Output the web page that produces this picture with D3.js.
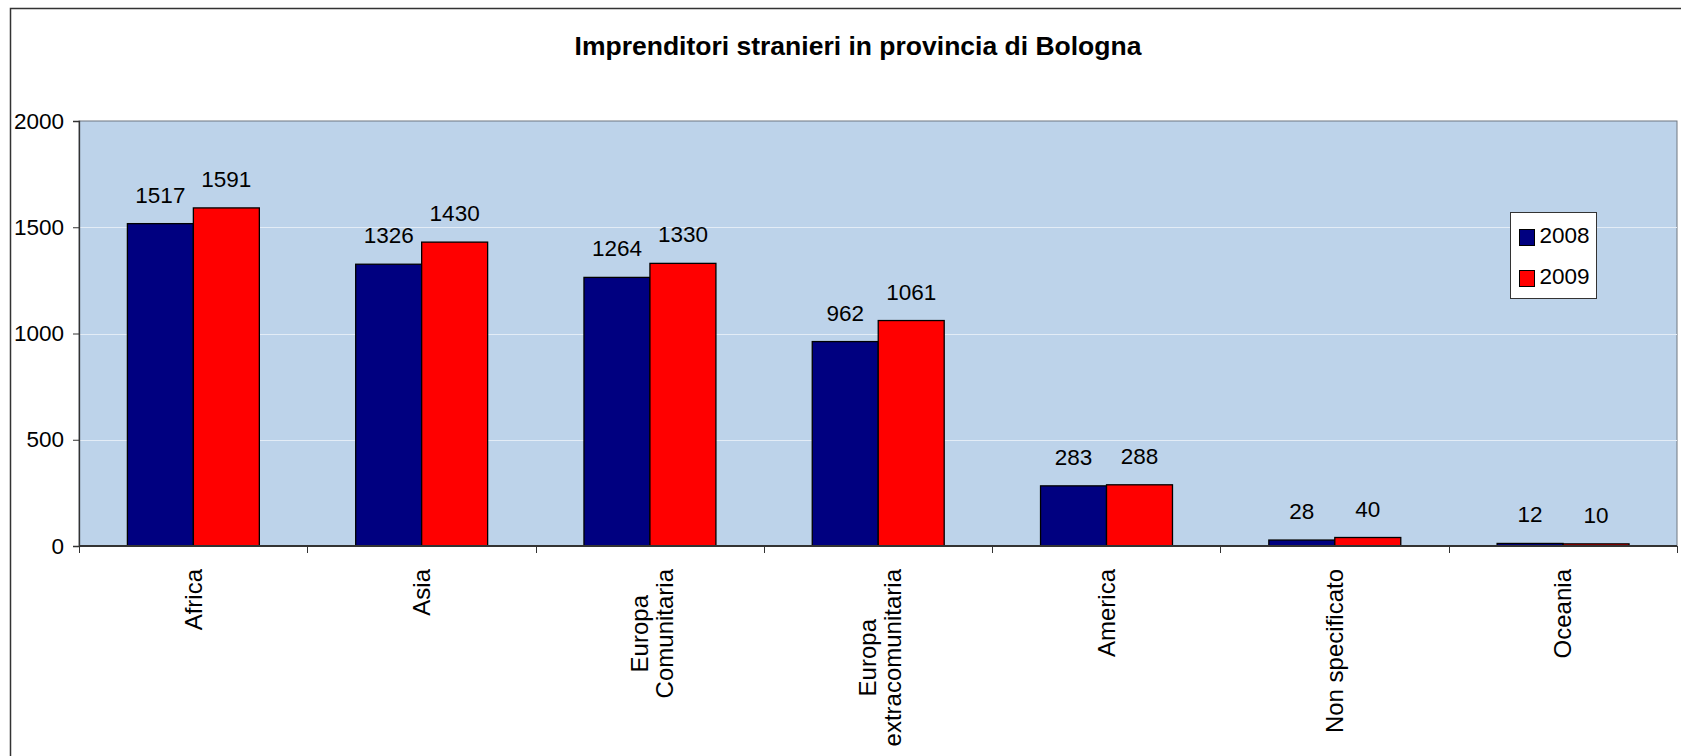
<!DOCTYPE html>
<html>
<head>
<meta charset="utf-8">
<script src="https://cdn.jsdelivr.net/npm/d3@7"></script>
<style>
  body { margin: 0; background: #fff; }
  text { font-family: Arial, "Liberation Sans", sans-serif; fill: #000; }
</style>
</head>
<body>
<div id="chart"></div>
<script>
// data
var categories = ["Africa", "Asia", "Europa\nComunitaria", "Europa\nextracomunitaria", "America", "Non specificato", "Oceania"];
var years = ["2008", "2009"];
var values2008 = [1517, 1326, 1264, 962, 283, 28, 12];
var values2009 = [1591, 1430, 1330, 1061, 288, 40, 10];
var yTicks = [0, 500, 1000, 1500, 2000];
var colors = ["#000080", "#ff0000"];

var W = 1681, H = 756;
var plot = {left: 79, right: 1677, top: 121, bottom: 546};

var data = categories.map(function(c, i) {
    return {cat: c, vals: [values2008[i], values2009[i]]};
});

var svg = d3.select("#chart").append("svg")
    .attr("width", W)
    .attr("height", H);

// outer chart frame (runs off the page right and bottom)
svg.append("rect")
    .attr("x", 10.5).attr("y", 8.5)
    .attr("width", W + 40).attr("height", H + 40)
    .attr("fill", "#fff")
    .attr("stroke", "#333")
    .attr("stroke-width", 1.5);

// scales
var x0 = d3.scaleBand()
    .domain(categories)
    .range([plot.left, plot.right])
    .padding(0);
var x1 = d3.scaleBand()
    .domain(years)
    .range([x0.bandwidth() * 0.212, x0.bandwidth() * 0.79])
    .padding(0);
var y = d3.scaleLinear()
    .domain([0, 2000])
    .range([plot.bottom, plot.top]);

// plot background
svg.append("rect")
    .attr("x", plot.left).attr("y", plot.top)
    .attr("width", plot.right - plot.left)
    .attr("height", plot.bottom - plot.top)
    .attr("fill", "#bdd3ea")
    .attr("stroke", "#6f7780")
    .attr("stroke-width", 1);

// gridlines
svg.append("g")
    .selectAll("line")
    .data(yTicks.filter(function(t) { return t > 0 && t < 2000; }))
    .enter().append("line")
    .attr("x1", plot.left).attr("x2", plot.right)
    .attr("y1", function(d) { return Math.round(y(d)) + 0.5; })
    .attr("y2", function(d) { return Math.round(y(d)) + 0.5; })
    .attr("stroke", "#e3ecf6")
    .attr("stroke-width", 1.2);

// bars
var groups = svg.append("g").selectAll("g")
    .data(data)
    .enter().append("g")
    .attr("transform", function(d) { return "translate(" + x0(d.cat) + ",0)"; });

groups.selectAll("rect")
    .data(function(d) { return d.vals.map(function(v, i) { return {year: years[i], v: v, i: i}; }); })
    .enter().append("rect")
    .attr("x", function(d) { return x1(d.year); })
    .attr("width", x1.bandwidth())
    .attr("y", function(d) { return y(d.v); })
    .attr("height", function(d) { return y(0) - y(d.v); })
    .attr("fill", function(d) { return colors[d.i]; })
    .attr("stroke", "#000")
    .attr("stroke-width", 1.3);

// value labels
groups.selectAll("text")
    .data(function(d) { return d.vals.map(function(v, i) { return {year: years[i], v: v}; }); })
    .enter().append("text")
    .attr("x", function(d) { return x1(d.year) + x1.bandwidth() / 2; })
    .attr("y", function(d) { return y(d.v) - 21; })
    .attr("text-anchor", "middle")
    .style("font-size", "22.5px")
    .text(function(d) { return d.v; });

// y axis
var yAxis = svg.append("g")
    .attr("transform", "translate(" + plot.left + ",0)")
    .call(d3.axisLeft(y).tickValues(yTicks).tickSize(6).tickPadding(9).tickFormat(d3.format("d")));
yAxis.select(".domain").attr("stroke", "#333").attr("stroke-width", 1.3);
yAxis.selectAll(".tick line").attr("stroke", "#333");
yAxis.selectAll(".tick text")
    .style("font-family", "Arial, 'Liberation Sans', sans-serif")
    .style("font-size", "22.5px")
    .attr("fill", "#000");

// x axis: ticks on category boundaries
var xAxis = svg.append("g")
    .attr("transform", "translate(0," + plot.bottom + ")");
xAxis.append("line")
    .attr("x1", plot.left).attr("x2", plot.right)
    .attr("y1", 0).attr("y2", 0)
    .attr("stroke", "#333")
    .attr("stroke-width", 2);
var bounds = categories.map(function(c) { return x0(c); }).concat([plot.right]);
xAxis.selectAll(".xtick")
    .data(bounds)
    .enter().append("line")
    .attr("class", "xtick")
    .attr("x1", function(d) { return Math.round(d) + 0.5; })
    .attr("x2", function(d) { return Math.round(d) + 0.5; })
    .attr("y1", 0).attr("y2", 7)
    .attr("stroke", "#333");

// category labels, rotated, longest line ends just under the axis
var labelTop = 569, lineGap = 25;
var catLabels = svg.append("g").selectAll("text")
    .data(categories)
    .enter().append("text")
    .attr("transform", function(d) {
        return "translate(" + (x0(d) + x0.bandwidth() / 2) + "," + labelTop + ") rotate(-90)";
    })
    .style("font-size", "24px")
    .attr("text-anchor", "middle");

catLabels.each(function(d) {
    var el = d3.select(this);
    var lines = d.split("\n");
    var n = lines.length;
    lines.forEach(function(line, i) {
        el.append("tspan")
            .attr("x", 0)
            .attr("y", 8.5 + (n > 1 ? 2 : 0) + (i - (n - 1) / 2) * lineGap)
            .text(line);
    });
    var maxLen = 0;
    el.selectAll("tspan").each(function() {
        maxLen = Math.max(maxLen, this.getComputedTextLength());
    });
    el.selectAll("tspan").attr("x", -maxLen / 2);
});

// title
svg.append("text")
    .attr("x", 858)
    .attr("y", 55)
    .attr("text-anchor", "middle")
    .style("font-size", "26.5px")
    .style("font-weight", "bold")
    .text("Imprenditori stranieri in provincia di Bologna");

// legend
var legend = svg.append("g").attr("transform", "translate(1510.5,212.5)");
legend.append("rect")
    .attr("width", 86).attr("height", 86)
    .attr("fill", "#fff")
    .attr("stroke", "#333")
    .attr("stroke-width", 1);
var items = legend.selectAll(".item")
    .data(years)
    .enter().append("g")
    .attr("class", "item")
    .attr("transform", function(d, i) { return "translate(9," + (17 + i * 41) + ")"; });
items.append("rect")
    .attr("width", 15).attr("height", 16)
    .attr("fill", function(d, i) { return colors[i]; })
    .attr("stroke", "#000")
    .attr("stroke-width", 1);
items.append("text")
    .attr("x", 20)
    .attr("y", 13)
    .style("font-size", "22.5px")
    .text(function(d) { return d; });
</script>
</body>
</html>
